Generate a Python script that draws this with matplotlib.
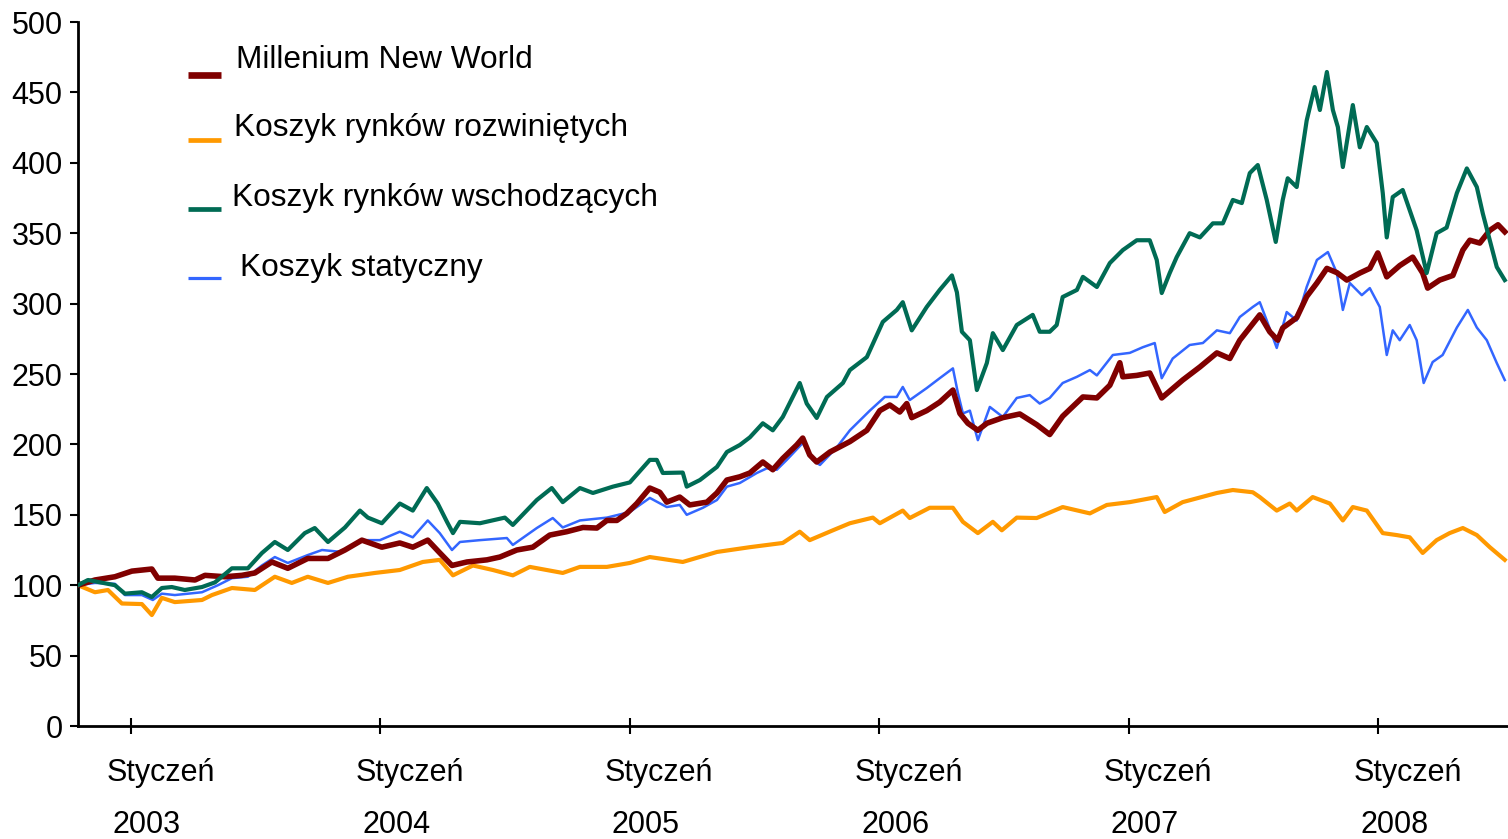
import matplotlib
matplotlib.use("Agg")
import matplotlib.pyplot as plt
from matplotlib.lines import Line2D
from matplotlib.transforms import blended_transform_factory

plt.rcParams['font.family'] = ['Liberation Sans', 'DejaVu Sans']

# time as decimal years, values = index (start = 100)
red_t = [2002.788, 2002.856, 2002.936, 2003.004, 2003.084, 2003.108, 2003.176, 2003.257, 2003.297, 2003.377,
         2003.445, 2003.497, 2003.565, 2003.629, 2003.709, 2003.790, 2003.858, 2003.926, 2004.006, 2004.078,
         2004.130, 2004.190, 2004.238, 2004.287, 2004.347, 2004.427, 2004.479, 2004.547, 2004.611, 2004.679,
         2004.747, 2004.812, 2004.868, 2004.908, 2004.948, 2004.988, 2005.028, 2005.080, 2005.120, 2005.148,
         2005.200, 2005.240, 2005.309, 2005.349, 2005.389, 2005.441, 2005.481, 2005.533, 2005.573, 2005.613,
         2005.669, 2005.693, 2005.721, 2005.749, 2005.802, 2005.882, 2005.950, 2006.002, 2006.042, 2006.082,
         2006.110, 2006.130, 2006.190, 2006.242, 2006.295, 2006.323, 2006.355, 2006.395, 2006.431, 2006.495,
         2006.563, 2006.631, 2006.683, 2006.735, 2006.816, 2006.872, 2006.924, 2006.964, 2006.976, 2007.032,
         2007.084, 2007.132, 2007.216, 2007.285, 2007.353, 2007.405, 2007.445, 2007.525, 2007.565, 2007.597,
         2007.617, 2007.673, 2007.713, 2007.754, 2007.794, 2007.834, 2007.874, 2007.926, 2007.966, 2007.998,
         2008.034, 2008.086, 2008.138, 2008.178, 2008.198, 2008.246, 2008.299, 2008.339, 2008.367, 2008.407,
         2008.447, 2008.480, 2008.507]
red_v = [100, 103.7, 106, 110, 111.5, 105, 105, 103.7, 107, 106,
         107, 108.7, 116.5, 112, 119, 119, 125, 132, 127, 130,
         127, 132, 123, 114, 116.5, 118, 120, 125, 127, 135.6,
         138, 141, 140.6, 146, 146, 151, 158, 169, 166, 159,
         162.6, 157, 159, 165.5, 174.7, 177, 179.7, 187.5, 182, 190,
         199.6, 204.5, 192.5, 187.5, 194.6, 202, 210, 224, 228, 223,
         229, 219, 224, 230, 238.6, 222, 215, 210, 215, 219,
         221.6, 214, 207, 220, 233.7, 233, 242, 258, 248, 249,
         250.7, 233, 245.7, 255, 265, 261, 274, 292, 280, 274,
         282.7, 290, 305, 314.6, 325, 322, 316.7, 321.7, 325, 336,
         319, 327, 333, 321.7, 311, 316.7, 320, 338, 345, 343,
         352, 356, 351]

orange_t = [2002.788, 2002.856, 2002.908, 2002.964, 2003.044, 2003.084, 2003.124, 2003.176, 2003.285, 2003.325,
            2003.405, 2003.497, 2003.577, 2003.645, 2003.709, 2003.790, 2003.870, 2003.978, 2004.078, 2004.170,
            2004.238, 2004.291, 2004.371, 2004.451, 2004.531, 2004.599, 2004.731, 2004.800, 2004.908, 2005.000,
            2005.080, 2005.212, 2005.349, 2005.481, 2005.613, 2005.681, 2005.721, 2005.814, 2005.882, 2005.974,
            2006.002, 2006.094, 2006.122, 2006.202, 2006.295, 2006.335, 2006.395, 2006.455, 2006.491, 2006.551,
            2006.631, 2006.735, 2006.844, 2006.912, 2007.004, 2007.112, 2007.144, 2007.216, 2007.353, 2007.417,
            2007.497, 2007.525, 2007.593, 2007.645, 2007.673, 2007.737, 2007.806, 2007.858, 2007.898, 2007.954,
            2008.018, 2008.074, 2008.126, 2008.178, 2008.234, 2008.286, 2008.339, 2008.395, 2008.447, 2008.507]
orange_v = [100, 95, 96.6, 87, 86.6, 78.8, 91, 88, 89.5, 93,
            98, 96.6, 106, 101.6, 106, 101.6, 106, 108.7, 110.8, 116.5,
            118, 107, 114, 110.8, 107, 113, 108.7, 113, 113, 115.8,
            120, 116.5, 123.6, 127, 130, 138, 132, 139, 144, 148,
            144, 153, 147.7, 155, 155, 145, 137, 145, 139, 148,
            147.7, 155.5, 151, 157, 159, 162.6, 152, 159, 165.5, 167.6,
            166, 162.6, 153, 158, 153, 162.6, 158, 146, 155.5, 153,
            137, 135.6, 134, 122.9, 132, 137, 140.6, 135.6, 127, 118]

green_t = [2002.788, 2002.828, 2002.936, 2002.976, 2003.044, 2003.084, 2003.124, 2003.164, 2003.216, 2003.285,
           2003.337, 2003.405, 2003.469, 2003.525, 2003.577, 2003.629, 2003.697, 2003.737, 2003.790, 2003.858,
           2003.918, 2003.950, 2004.006, 2004.078, 2004.130, 2004.186, 2004.230, 2004.267, 2004.291, 2004.319,
           2004.399, 2004.499, 2004.531, 2004.627, 2004.687, 2004.731, 2004.800, 2004.852, 2004.932, 2005.000,
           2005.080, 2005.108, 2005.132, 2005.212, 2005.228, 2005.281, 2005.349, 2005.389, 2005.441, 2005.481,
           2005.533, 2005.573, 2005.613, 2005.653, 2005.681, 2005.709, 2005.749, 2005.790, 2005.854, 2005.882,
           2005.950, 2006.014, 2006.070, 2006.094, 2006.130, 2006.190, 2006.242, 2006.291, 2006.311, 2006.331,
           2006.363, 2006.391, 2006.431, 2006.455, 2006.495, 2006.551, 2006.615, 2006.643, 2006.683, 2006.711,
           2006.735, 2006.792, 2006.816, 2006.872, 2006.924, 2006.976, 2007.032, 2007.084, 2007.112, 2007.132,
           2007.164, 2007.192, 2007.244, 2007.285, 2007.337, 2007.377, 2007.417, 2007.453, 2007.485, 2007.517,
           2007.553, 2007.589, 2007.617, 2007.637, 2007.673, 2007.713, 2007.745, 2007.766, 2007.794, 2007.818,
           2007.838, 2007.858, 2007.898, 2007.926, 2007.954, 2007.994, 2008.018, 2008.034, 2008.058, 2008.098,
           2008.154, 2008.194, 2008.234, 2008.274, 2008.315, 2008.355, 2008.395, 2008.419, 2008.475, 2008.507]
green_v = [100, 103.7, 100, 94, 95, 91.6, 98, 98.7, 96.6, 98.7,
           102, 112, 112, 122.8, 130.7, 125, 137, 140.6, 130.7, 141,
           153, 148, 144, 158, 153, 169, 158, 145, 137, 145,
           144, 148, 142.8, 160.5, 169, 159, 169, 165.5, 170, 173,
           189, 189, 179.7, 180, 170, 174.7, 184, 194.6, 199.6, 205,
           215, 210, 219.5, 233.7, 243.6, 229, 218.8, 233.7, 243.6, 252.8,
           262, 287, 295.5, 301, 281, 297.6, 309.7, 320, 308, 280,
           274, 238.6, 257.8, 279, 267, 284.8, 292, 280, 280, 284.8,
           304.7, 309.7, 319, 311.8, 328.8, 338, 345, 345, 331, 307.5,
           321.7, 333, 350, 347, 357, 357, 373.6, 371.4, 392.7, 398.4,
           373.6, 343.8, 373.6, 389, 382.8, 430, 453.8, 437.5, 464.5, 437.5,
           425.4, 397, 441, 411, 425.4, 414, 378.5, 347, 375.7, 380.7,
           352, 321.7, 350, 354, 378.5, 396, 382.8, 364, 326, 316.7]

blue_t = [2002.788, 2002.856, 2002.936, 2002.976, 2003.044, 2003.088, 2003.124, 2003.176, 2003.285, 2003.349,
          2003.405, 2003.469, 2003.525, 2003.577, 2003.629, 2003.709, 2003.766, 2003.846, 2003.926, 2003.998,
          2004.078, 2004.130, 2004.190, 2004.238, 2004.287, 2004.319, 2004.399, 2004.507, 2004.531, 2004.627,
          2004.691, 2004.731, 2004.800, 2004.908, 2005.000, 2005.080, 2005.148, 2005.200, 2005.228, 2005.293,
          2005.349, 2005.389, 2005.441, 2005.509, 2005.549, 2005.589, 2005.629, 2005.693, 2005.733, 2005.762,
          2005.830, 2005.882, 2005.962, 2006.022, 2006.070, 2006.094, 2006.122, 2006.190, 2006.242, 2006.295,
          2006.315, 2006.335, 2006.363, 2006.395, 2006.443, 2006.495, 2006.551, 2006.603, 2006.643, 2006.683,
          2006.735, 2006.792, 2006.844, 2006.872, 2006.936, 2007.004, 2007.056, 2007.104, 2007.132, 2007.176,
          2007.244, 2007.297, 2007.353, 2007.405, 2007.445, 2007.497, 2007.525, 2007.553, 2007.593, 2007.633,
          2007.673, 2007.713, 2007.754, 2007.798, 2007.834, 2007.858, 2007.886, 2007.934, 2007.966, 2008.006,
          2008.034, 2008.058, 2008.086, 2008.126, 2008.154, 2008.182, 2008.218, 2008.258, 2008.315, 2008.359,
          2008.395, 2008.435, 2008.475, 2008.507]
blue_v = [100, 101.6, 101, 93, 93, 89.5, 94, 93, 95, 100,
          105, 106, 114, 120, 115.8, 121.4, 125, 123.6, 132, 132,
          138, 134, 146, 137, 125, 130.7, 132, 133.5, 128.6, 140.6,
          147.7, 141, 146, 148, 152, 162, 155.5, 157, 150, 155,
          160.5, 170, 172.6, 179.7, 183, 182, 189, 201, 189, 185.4,
          198, 210, 224, 233.7, 233.7, 240.8, 231.5, 240, 247, 254,
          236.5, 222, 224, 203, 226.6, 219.5, 233, 235, 229, 233,
          243.6, 248, 252.8, 249, 263.5, 265, 269, 272, 247, 261,
          270.6, 272, 281, 279, 290.5, 297.6, 301, 288, 268.5, 294,
          288, 311.8, 331, 336.6, 321.7, 295.5, 314.6, 306, 311, 297.6,
          263.5, 281, 274, 284.8, 274, 243.6, 258.5, 263.5, 283, 295.5,
          283, 274, 257.8, 245.7]

names = ["Millenium New World", "Koszyk rynków rozwiniętych",
         "Koszyk rynków wschodzących", "Koszyk statyczny"]
colors = ["#800000", "#FF9900", "#006B54", "#3366FF"]
years = [2003, 2004, 2005, 2006, 2007, 2008]
month_label = "Styczeń"

W, H = 1508, 839
fig = plt.figure(figsize=(W / 100, H / 100), dpi=100)
ax = fig.add_axes([78 / W, 1 - 726 / H, (W - 78) / W, (726 - 22) / H])

ax.plot(orange_t, orange_v, color=colors[1], lw=3.0, zorder=2)
ax.plot(blue_t, blue_v, color=colors[3], lw=1.8, zorder=3)
ax.plot(red_t, red_v, color=colors[0], lw=4.0, zorder=4)
ax.plot(green_t, green_v, color=colors[2], lw=3.0, zorder=5)

ax.set_xlim(2002.788, 2008.52)
ax.set_ylim(0, 500)
ax.set_yticks(range(0, 501, 50))
ax.set_xticks(years)
ax.tick_params(axis='y', direction='out', length=6, width=1.5, labelsize=22, pad=5)
ax.tick_params(axis='x', direction='inout', length=11, width=1.5, labelbottom=False)
for s in ['top', 'right']:
    ax.spines[s].set_visible(False)
for s in ['left', 'bottom']:
    ax.spines[s].set_linewidth(2)

trans = blended_transform_factory(ax.transData, ax.transAxes)
for y in years:
    ax.text(y + 0.118, -0.067, month_label, transform=trans, ha='center', va='center', fontsize=22)
    ax.text(y + 0.064, -0.141, str(y), transform=trans, ha='center', va='center', fontsize=22)

# legend drawn by hand: short sample line with label slightly above it
leg_line_y = [75, 140, 209, 278]
leg_text_y = [60, 128, 198, 268]
leg_text_x = [236, 234, 232, 240]
leg_lw = [4.8, 3.4, 3.4, 2.3]
for i in range(4):
    fig.add_artist(Line2D([188 / W, 221 / W], [1 - leg_line_y[i] / H] * 2,
                          transform=fig.transFigure, color=colors[i],
                          lw=leg_lw[i], solid_capstyle='butt'))
    fig.text(leg_text_x[i] / W, 1 - leg_text_y[i] / H, names[i],
             ha='left', va='center', fontsize=22.8)

fig.savefig("out.png", dpi=100)
